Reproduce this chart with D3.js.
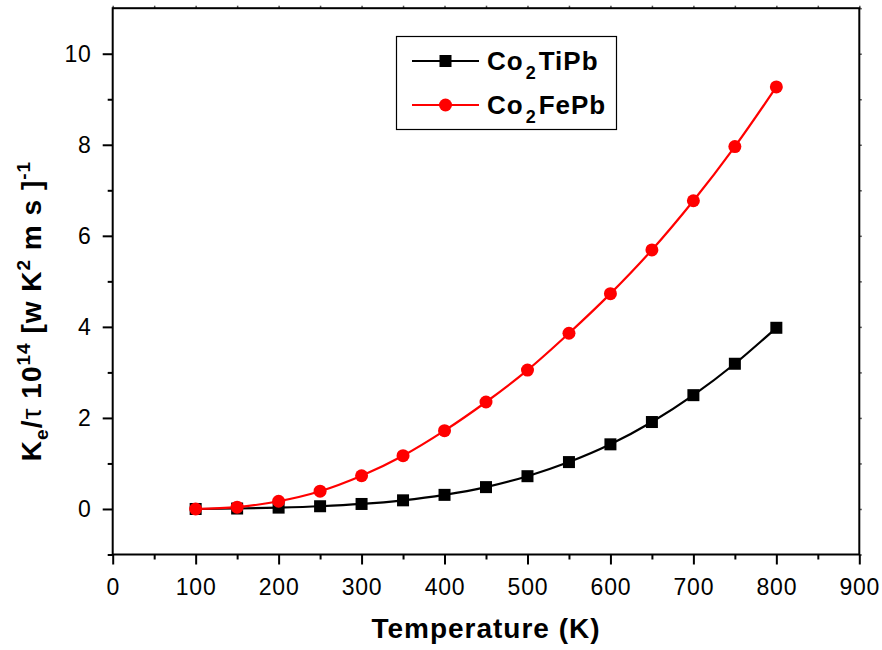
<!DOCTYPE html>
<html><head><meta charset="utf-8">
<script src="https://cdn.jsdelivr.net/npm/d3@7"></script>
<style>body{margin:0;background:#fff}svg{display:block}text{font-family:Arial,"Liberation Sans",sans-serif}</style>
</head><body>
<svg id="c" width="882" height="650"></svg>
<script>
const temps = [100,150,200,250,300,350,400,450,500,550,600,650,700,750,800];
const tiPb = [0,0.01,0.03,0.06,0.11,0.19,0.31,0.48,0.72,1.03,1.42,1.91,2.5,3.19,3.98];
const fePb = [0,0.04,0.17,0.39,0.73,1.17,1.72,2.35,3.05,3.86,4.73,5.69,6.77,7.96,9.27];
const xTicks = [0,100,200,300,400,500,600,700,800,900];
const yTicks = [0,2,4,6,8,10];

const svg = d3.select("#c");
const L=112.7,R=859.3,T=8.2,B=554.5;
const x = d3.scaleLinear().domain([0,900]).range([L,R]);
const y = d3.scaleLinear().domain([-1,11]).range([B,T]);

function styleTicks(g){g.select(".domain").remove();g.selectAll("line").attr("stroke-width",2);}

// top and right small ticks
svg.append("g").attr("transform",`translate(0,${T})`)
  .call(d3.axisTop(x).tickValues(d3.range(0,901,50)).tickSize(2.5).tickFormat(""))
  .call(g=>{g.select(".domain").remove();g.selectAll("line").attr("stroke","#555").attr("stroke-width",1.5);});
svg.append("g").attr("transform",`translate(${R},0)`)
  .call(d3.axisRight(y).tickValues(d3.range(-1,12,1)).tickSize(2.5).tickFormat(""))
  .call(g=>{g.select(".domain").remove();g.selectAll("line").attr("stroke","#555").attr("stroke-width",1.5);});

// frame
svg.append("rect").attr("x",L).attr("y",T).attr("width",R-L).attr("height",B-T)
  .attr("fill","none").attr("stroke","#000").attr("stroke-width",2);

// x axis
const xa = svg.append("g").attr("transform",`translate(0,${B})`)
  .call(d3.axisBottom(x).tickValues(xTicks).tickSize(10).tickPadding(14).tickFormat(d3.format("d")))
  .call(styleTicks);
xa.selectAll("text").style("font-size","23px").attr("fill","#000").attr("letter-spacing",0.8);
svg.append("g").attr("transform",`translate(0,${B})`)
  .call(d3.axisBottom(x).tickValues(d3.range(50,900,100)).tickSize(5).tickFormat(""))
  .call(styleTicks);

// y axis
const ya = svg.append("g").attr("transform",`translate(${L},0)`)
  .call(d3.axisLeft(y).tickValues(yTicks).tickSize(10).tickPadding(11))
  .call(styleTicks);
ya.selectAll("text").style("font-size","23px").attr("fill","#000").attr("letter-spacing",0.8);
svg.append("g").attr("transform",`translate(${L},0)`)
  .call(d3.axisLeft(y).tickValues([-1,1,3,5,7,9]).tickSize(5).tickFormat(""))
  .call(styleTicks);

// series
const series = [
  {name:"TiPb", vals:tiPb, color:"#000", shape:"square"},
  {name:"FePb", vals:fePb, color:"#ff0000", shape:"circle"}
];
const line = d3.line().x(d=>x(d[0])).y(d=>y(d[1])).curve(d3.curveCatmullRom.alpha(0.5));
series.forEach(s=>{
  const pts = temps.map((t,i)=>[t,s.vals[i]]);
  svg.append("path").attr("d",line(pts)).attr("fill","none").attr("stroke",s.color).attr("stroke-width",2.2);
  const g = svg.append("g");
  if(s.shape==="square"){
    g.selectAll("rect").data(pts).join("rect")
      .attr("x",d=>x(d[0])-6).attr("y",d=>y(d[1])-6).attr("width",12).attr("height",12).attr("fill",s.color);
  } else {
    g.selectAll("circle").data(pts).join("circle")
      .attr("cx",d=>x(d[0])).attr("cy",d=>y(d[1])).attr("r",6.5).attr("fill",s.color);
  }
});

// legend
const lg = svg.append("g");
lg.append("rect").attr("x",396.5).attr("y",36.5).attr("width",220).attr("height",93)
  .attr("fill","#fff").attr("stroke","#000").attr("stroke-width",1.2);
const leg = [
  {y:61, color:"#000", shape:"square", main:"Co", sub:"2", rest:"TiPb"},
  {y:105, color:"#ff0000", shape:"circle", main:"Co", sub:"2", rest:"FePb"}
];
leg.forEach(e=>{
  lg.append("line").attr("x1",412).attr("x2",479).attr("y1",e.y).attr("y2",e.y).attr("stroke",e.color).attr("stroke-width",2.2);
  if(e.shape==="square") lg.append("rect").attr("x",439.5).attr("y",e.y-6).attr("width",12).attr("height",12).attr("fill",e.color);
  else lg.append("circle").attr("cx",445.5).attr("cy",e.y).attr("r",6.5).attr("fill",e.color);
  const t = lg.append("text").attr("x",487).attr("y",e.y+9).attr("font-size",26).attr("font-weight","bold").attr("letter-spacing",1);
  t.append("tspan").text(e.main);
  t.append("tspan").attr("font-size",18).attr("dx",2).attr("dy",9).text(e.sub);
  t.append("tspan").attr("dx",2).attr("dy",-9).text(e.rest);
});

// x title
svg.append("text").attr("x",(L+R)/2).attr("y",638).attr("text-anchor","middle")
  .attr("font-size",28).attr("font-weight","bold").attr("letter-spacing",1).text("Temperature (K)");

// y title
const yt = svg.append("text").attr("transform","translate(41,311) rotate(-90)")
  .attr("text-anchor","middle").attr("font-size",28).attr("font-weight","bold").attr("letter-spacing",1);
yt.append("tspan").text("K");
yt.append("tspan").attr("font-size",19).attr("dy",7).text("e");
yt.append("tspan").attr("dy",-7).text("/");
yt.append("tspan").attr("font-weight","normal").text("τ   ");
yt.append("tspan").text("10");
yt.append("tspan").attr("font-size",19).attr("dy",-11).text("14");
yt.append("tspan").attr("dy",11).text(" [w K");
yt.append("tspan").attr("font-size",19).attr("dy",-11).text("2");
yt.append("tspan").attr("dy",11).text(" m s ]");
yt.append("tspan").attr("font-size",19).attr("dy",-11).text("-1");
</script>
</body></html>
